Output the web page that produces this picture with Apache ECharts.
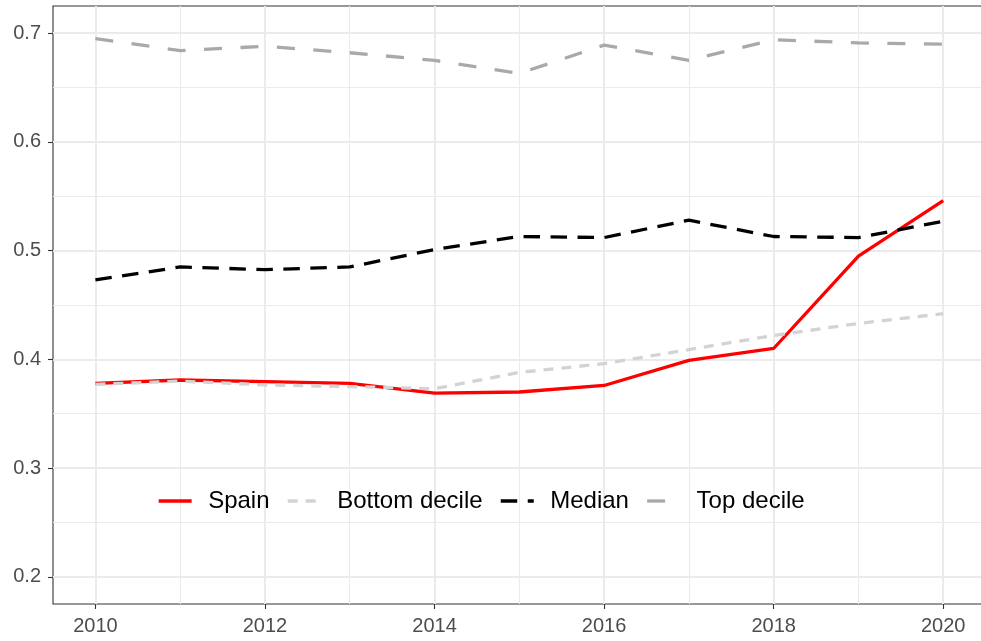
<!DOCTYPE html>
<html>
<head>
<meta charset="utf-8">
<script src="https://cdn.jsdelivr.net/npm/echarts@6/dist/echarts.min.js"></script>
<style>
html,body{margin:0;padding:0;background:#fff;}
#main{width:981px;height:641px;}
</style>
</head>
<body>
<div id="main"></div>
<script>
// data
var years = [2010, 2011, 2012, 2013, 2014, 2015, 2016, 2017, 2018, 2019, 2020];
var spain = [0.378, 0.381, 0.3795, 0.378, 0.369, 0.370, 0.376, 0.399, 0.410, 0.495, 0.546];
var bottomDecile = [0.377, 0.380, 0.3765, 0.375, 0.373, 0.388, 0.396, 0.409, 0.422, 0.433, 0.442];
var median = [0.473, 0.485, 0.4825, 0.485, 0.501, 0.513, 0.512, 0.528, 0.513, 0.512, 0.527];
var topDecile = [0.695, 0.684, 0.688, 0.682, 0.675, 0.663, 0.689, 0.675, 0.694, 0.691, 0.690];
var xTicks = [2010, 2012, 2014, 2016, 2018, 2020];
var yTicks = [0.2, 0.3, 0.4, 0.5, 0.6, 0.7];

var font = '"Liberation Sans", Arial, sans-serif';
var none = 'rgba(0,0,0,0)';
var gridCol = '#ebebeb';

var pairs = function(vals){
    var out = [];
    for (var i = 0; i < years.length; i++) out.push([years[i], vals[i]]);
    return out;
};

//helper axis that only draws grid lines (every 4th tick coloured)
var gridAxis = function(min, max, step, colors, width){
    return {
        type: 'value', min: min, max: max, interval: step,
        axisLine: {show: false}, axisTick: {show: false}, axisLabel: {show: false},
        splitLine: {show: true, showMinLine: true, showMaxLine: true,
            lineStyle: {color: colors, width: width}}
    };
};

var line = function(name, vals, color, dash){
    return {
        name: name,
        type: 'line',
        data: pairs(vals),
        xAxisIndex: 0,
        yAxisIndex: 0,
        symbol: 'none',
        silent: true,
        itemStyle: {color: color},
        lineStyle: {color: color, width: 3.3, type: dash, join: 'round'}
    };
};

var chart = echarts.init(document.getElementById('main'));
chart.setOption({
    animation: false,
    backgroundColor: '#fff',
    grid: {left: 53, top: 6, right: -4.6, bottom: 37, show: true, outerBoundsMode: 'none',
        borderColor: '#333', borderWidth: 1.1, backgroundColor: none},
    legend: {
        data: ['Spain', 'Bottom decile', 'Median', 'Top decile'],
        left: 157, top: 489, padding: 0,
        itemWidth: 33, itemHeight: 14, itemGap: 16.5,
        itemStyle: {opacity: 0},
        lineStyle: {width: 3.3},
        textStyle: {fontSize: 24, color: '#000', fontFamily: font, padding: [0, 0, 0, 11.5]}
    },
    xAxis: [
        {
            type: 'value', min: 2009.5, max: 2020.5,
            axisLine: {show: false},
            axisTick: {show: true, customValues: xTicks, length: 5, lineStyle: {color: '#333', width: 1.1}},
            axisLabel: {customValues: xTicks, color: '#4d4d4d', fontSize: 20, fontFamily: font, margin: 12,
                formatter: function(v){ return String(v); }},
            splitLine: {show: false}
        },
        gridAxis(2009.5, 2020.5, 0.5, [none, gridCol, none, none], 2),
        gridAxis(2009.5, 2020.5, 0.5, [none, none, none, gridCol], 1.1)
    ],
    yAxis: [
        {
            type: 'value', min: 0.175, max: 0.725,
            axisLine: {show: false},
            axisTick: {show: true, customValues: yTicks, length: 5, lineStyle: {color: '#333', width: 1.1}},
            axisLabel: {customValues: yTicks, color: '#4d4d4d', fontSize: 20, fontFamily: font, margin: 12,
                formatter: function(v){ return v.toFixed(1); }},
            splitLine: {show: false}
        },
        gridAxis(0.175, 0.725, 0.025, [none, gridCol, none, none], 2),
        gridAxis(0.175, 0.725, 0.025, [none, none, none, gridCol], 1.1)
    ],
    series: [
        line('Spain', spain, '#ff0000', 'solid'),
        line('Bottom decile', bottomDecile, '#d3d3d3', [10, 8]),
        line('Median', median, '#000000', [16.5, 10.5]),
        line('Top decile', topDecile, '#a9a9a9', [18, 18.5])
    ]
});
</script>
</body>
</html>
